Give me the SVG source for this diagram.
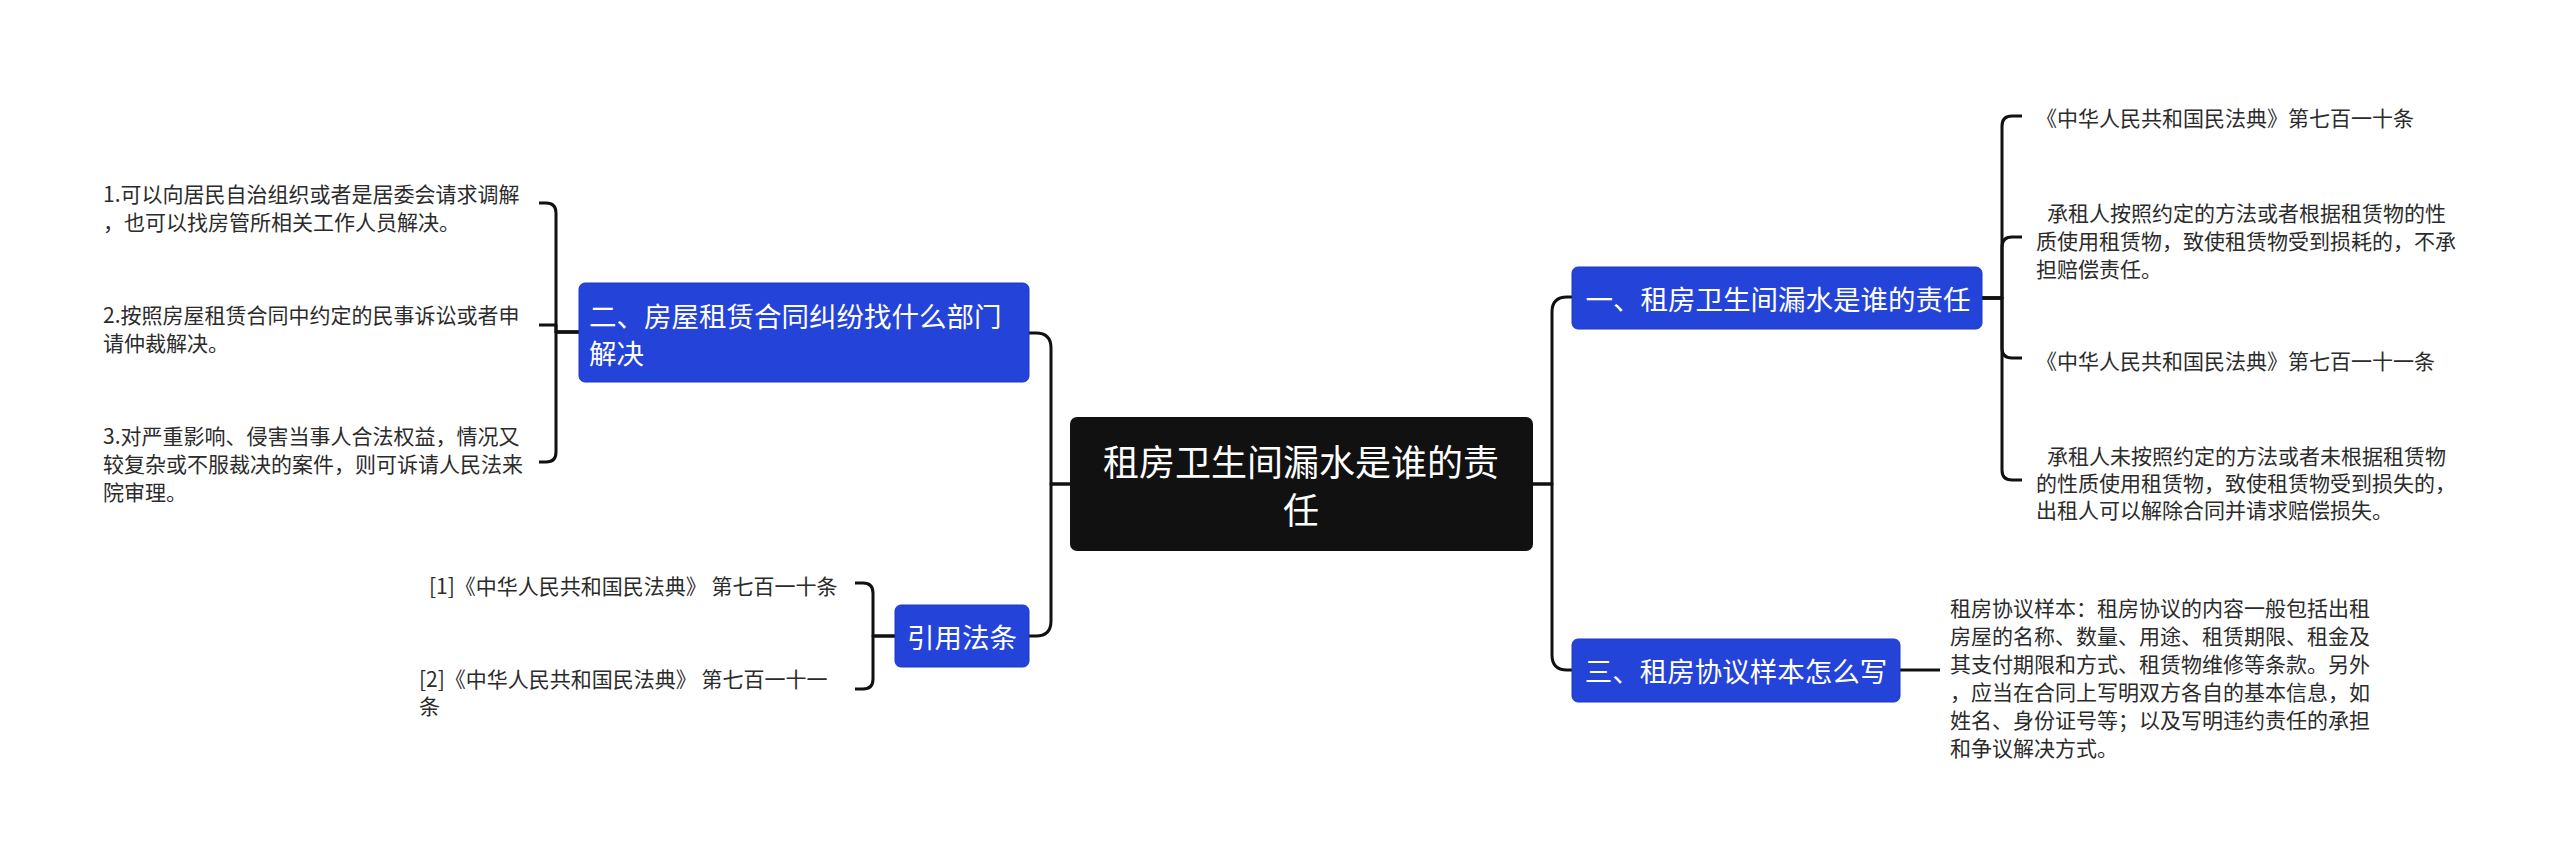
<svg xmlns="http://www.w3.org/2000/svg" width="2560" height="855" viewBox="0 0 2560 855">
<style>
.conn{fill:none;stroke:#111;stroke-width:3;stroke-linejoin:round;stroke-linecap:butt}
.root{fill:#111111}
.topic{fill:#2443d9;stroke:#1d38c6;stroke-width:1}
.rt{font-family:"Noto Sans CJK SC","Noto Sans",sans-serif;font-size:36px;fill:#ffffff;text-anchor:middle;dominant-baseline:central}
.tt{font-family:"Noto Sans CJK SC","Noto Sans",sans-serif;font-size:27.5px;fill:#ffffff;dominant-baseline:central}
.ct{font-family:"Noto Sans CJK SC","Noto Sans",sans-serif;font-size:21px;fill:#2b2b2b;dominant-baseline:central}
</style>
<rect width="2560" height="855" fill="#ffffff"/>
<g id="connectors">
<path class="conn" d="M1532 484 H1552 V312 Q1552 297 1567 297 H1573"/>
<path class="conn" d="M1532 484 H1552 V655 Q1552 670 1567 670 H1573"/>
<path class="conn" d="M1071 484 H1051 V348 Q1051 333 1036 333 H1029"/>
<path class="conn" d="M1071 484 H1051 V621 Q1051 636 1036 636 H1029"/>
<path class="conn" d="M1982 298 H2002 V126 Q2002 116 2012 116 H2022"/>
<path class="conn" d="M1982 298 H2002 V247 Q2002 237 2012 237 H2022"/>
<path class="conn" d="M1982 298 H2002 V348 Q2002 358 2012 358 H2022"/>
<path class="conn" d="M1982 298 H2002 V470 Q2002 480 2012 480 H2022"/>
<path class="conn" d="M1900 670 H1940"/>
<path class="conn" d="M579 332 H556 V213 Q556 203 546 203 H539"/>
<path class="conn" d="M579 332 H556 V325 H539"/>
<path class="conn" d="M579 332 H556 V452 Q556 462 546 462 H539"/>
<path class="conn" d="M895 636 H873 V593 Q873 583 863 583 H855"/>
<path class="conn" d="M895 636 H873 V679 Q873 689 863 689 H855"/>
</g>
<g id="root">
<rect class="root" x="1070" y="417" width="463" height="134" rx="7"/>
<text class="rt" x="1301" y="460">租房卫生间漏水是谁的责</text>
<text class="rt" x="1301" y="508">任</text>
</g>
<g id="topic1">
<rect class="topic" x="1572" y="267" width="410" height="62" rx="6"/>
<text class="tt" x="1778" y="298" text-anchor="middle">一、租房卫生间漏水是谁的责任</text>
</g>
<g id="topic3">
<rect class="topic" x="1572" y="639" width="328" height="63" rx="6"/>
<text class="tt" x="1736" y="670" text-anchor="middle">三、租房协议样本怎么写</text>
</g>
<g id="topic2">
<rect class="topic" x="579" y="283" width="450" height="99" rx="6"/>
<text class="tt" x="589" y="315">二、房屋租赁合同纠纷找什么部门</text>
<text class="tt" x="589" y="352">解决</text>
</g>
<g id="topic4">
<rect class="topic" x="895" y="605" width="134" height="62" rx="6"/>
<text class="tt" x="962" y="636" text-anchor="middle">引用法条</text>
</g>
<g id="t1c1">
<text class="ct" x="2036" y="117">《中华人民共和国民法典》第七百一十条</text>
</g>
<g id="t1c2">
<text class="ct" x="2047" y="212">承租人按照约定的方法或者根据租赁物的性</text>
<text class="ct" x="2036" y="240">质使用租赁物，致使租赁物受到损耗的，不承</text>
<text class="ct" x="2036" y="268">担赔偿责任。</text>
</g>
<g id="t1c3">
<text class="ct" x="2036" y="360">《中华人民共和国民法典》第七百一十一条</text>
</g>
<g id="t1c4">
<text class="ct" x="2047" y="455">承租人未按照约定的方法或者未根据租赁物</text>
<text class="ct" x="2036" y="482">的性质使用租赁物，致使租赁物受到损失的，</text>
<text class="ct" x="2036" y="509">出租人可以解除合同并请求赔偿损失。</text>
</g>
<g id="t3c1">
<text class="ct" x="1950" y="607">租房协议样本：租房协议的内容一般包括出租</text>
<text class="ct" x="1950" y="635">房屋的名称、数量、用途、租赁期限、租金及</text>
<text class="ct" x="1950" y="663">其支付期限和方式、租赁物维修等条款。另外</text>
<text class="ct" x="1950" y="691">，应当在合同上写明双方各自的基本信息，如</text>
<text class="ct" x="1950" y="719">姓名、身份证号等；以及写明违约责任的承担</text>
<text class="ct" x="1950" y="747">和争议解决方式。</text>
</g>
<g id="t2c1">
<text class="ct" x="103" y="193">1.可以向居民自治组织或者是居委会请求调解</text>
<text class="ct" x="103" y="221">，也可以找房管所相关工作人员解决。</text>
</g>
<g id="t2c2">
<text class="ct" x="103" y="314">2.按照房屋租赁合同中约定的民事诉讼或者申</text>
<text class="ct" x="103" y="342">请仲裁解决。</text>
</g>
<g id="t2c3">
<text class="ct" x="103" y="435">3.对严重影响、侵害当事人合法权益，情况又</text>
<text class="ct" x="103" y="463">较复杂或不服裁决的案件，则可诉请人民法来</text>
<text class="ct" x="103" y="491">院审理。</text>
</g>
<g id="t4c1">
<text class="ct" x="429" y="585">[1]《中华人民共和国民法典》 第七百一十条</text>
</g>
<g id="t4c2">
<text class="ct" x="419" y="678">[2]《中华人民共和国民法典》 第七百一十一</text>
<text class="ct" x="419" y="705">条</text>
</g>
</svg>
